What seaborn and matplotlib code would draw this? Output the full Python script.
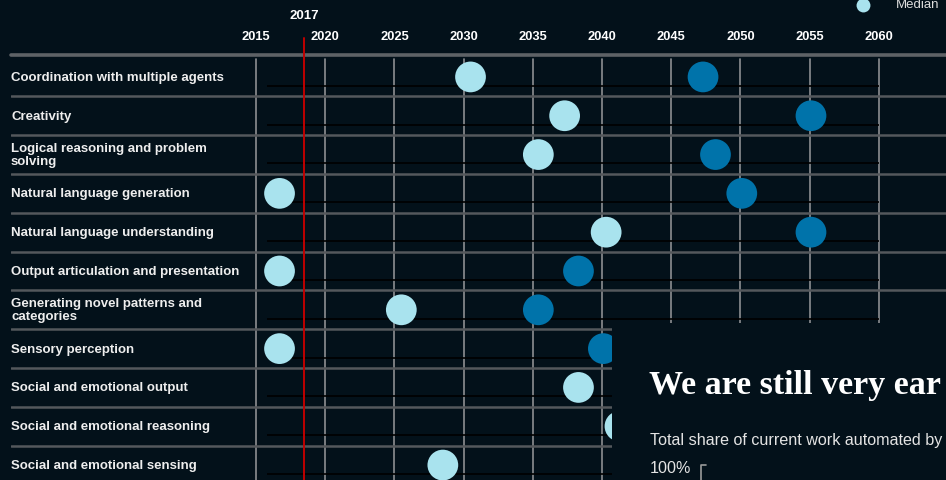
import numpy as np
import pandas as pd
import matplotlib.pyplot as plt
import matplotlib.transforms as mtransforms
from matplotlib.patches import Rectangle
from matplotlib.lines import Line2D
import seaborn as sns

# dark theme like the source page
BG = '#03111a'
LIGHT = '#a9e3ee'
DARK = '#0073aa'

sns.set_style("dark", {"axes.facecolor": BG, "figure.facecolor": BG})
plt.rcParams['font.family'] = ['Liberation Sans', 'DejaVu Sans']

##########################################################################
# data (years)

skills = ['Coordination with multiple agents',
          'Creativity',
          'Logical reasoning and problem\nsolving',
          'Natural language generation',
          'Natural language understanding',
          'Output articulation and presentation',
          'Generating novel patterns and\ncategories',
          'Sensory perception',
          'Social and emotional output',
          'Social and emotional reasoning',
          'Social and emotional sensing']

median_year = [2030.5, 2037.3, 2035.4, 2016.7, 2040.3, 2016.7,
               2025.5, 2016.7, 2038.3, 2041.3, 2028.5]
# later estimate; the last three sit under the overlay panel and can't be read
late_year = [2047.3, 2055.1, 2048.2, 2050.1, 2055.1, 2038.3,
             2035.4, 2040.1, np.nan, np.nan, np.nan]

year_ticks = [2015, 2020, 2025, 2030, 2035, 2040, 2045, 2050, 2055, 2060]
marker_year = 2018.5
marker_label = '2017'

df = pd.DataFrame({'skill': skills * 2,
                   'year': median_year + late_year,
                   'estimate': ['Median'] * len(skills) + ['Late'] * len(skills)})

##########################################################################

fig = plt.figure(figsize=(9.46, 4.81), dpi=100)
ax = fig.add_axes([11 / 946, 0, 1 - 11 / 946, 1 - 56 / 481])

sns.scatterplot(data=df, x='year', y='skill', hue='estimate',
                palette={'Median': LIGHT, 'Late': DARK},
                s=490, linewidth=0, legend=False, zorder=5, ax=ax)

n = len(skills)
ax.set_xlim(2015 - 245 / 13.84, 2015 + 690 / 13.84)
ax.set_ylim(n - 1 + 0.385, -0.565)

# vertical grid
for yr in year_ticks:
    ax.axvline(yr, ymin=0, ymax=0.99, color='#8c8f92', lw=1.2, zorder=1)

# row separators + header rule
for i in range(n - 1):
    ax.axhline(i + 0.5, color='#54585c', lw=1.8, zorder=2)
ax.axhline(-0.565, color='#5e6266', lw=2.6, zorder=2, clip_on=False)

# thin dark track inside each row
ax.hlines(np.arange(n) + 0.23, 2015.8, 2060, color='black', lw=1.2, zorder=3)

# reference year
ax.axvline(marker_year, ymin=0, ymax=1.04, color='#c00000', lw=1.4,
           zorder=4, clip_on=False)
ax.text(marker_year, 1.093, marker_label, transform=ax.get_xaxis_transform(),
        ha='center', va='center', color='white', fontsize=9.5,
        fontweight='bold')

# year labels on top
ax.xaxis.tick_top()
ax.set_xticks(year_ticks)
ax.set_xticklabels([str(y) for y in year_ticks], fontweight='bold',
                   fontsize=9.3, color='white')
ax.tick_params(axis='x', length=0, pad=9.5)
ax.set_yticks([])
ax.set_xlabel('')
ax.set_ylabel('')
ax.grid(False)
for s in ax.spines.values():
    s.set_visible(False)

# row labels
trans = mtransforms.blended_transform_factory(ax.transAxes, ax.transData)
for i, lab in enumerate(skills):
    ax.text(0, i, lab, transform=trans, ha='left', va='center',
            color='#eeeeee', fontsize=9.5, fontweight='bold', linespacing=1.15)

# legend key (cut at top of the screenshot)
ax.plot([863 / 946], [1 - 6 / 481], marker='o', markersize=10,
        color=LIGHT, mec='none', transform=fig.transFigure, clip_on=False)
fig.text(896 / 946, 1 - 8 / 481, 'Median', color='#dddddd', fontsize=9.5,
         va='baseline')

##########################################################################
# overlapping panel from the next section of the page (cut at right edge)

fig.add_artist(Rectangle((612 / 946, 0), 1 - 612 / 946, 157 / 481,
                         transform=fig.transFigure, facecolor=BG,
                         edgecolor='none', zorder=10))
fig.text(649 / 946, 1 - 394 / 481, 'We are still very ear',
         family=['Liberation Serif', 'DejaVu Serif'], fontweight='bold',
         fontsize=24.5, color='white', va='baseline', zorder=11)
fig.text(650 / 946, 1 - 445 / 481, 'Total share of current work automated by',
         fontsize=11.6, color='#e4e4e4', va='baseline', zorder=11)
fig.text(650 / 946, 1 - 473 / 481, '100%', fontsize=11.6, color='#e4e4e4',
         va='baseline', zorder=11)
fig.add_artist(Line2D([701 / 946, 701 / 946, 706 / 946],
                      [0, 1 - 466 / 481, 1 - 466 / 481],
                      transform=fig.transFigure, color='#9a9a9a', lw=1.2,
                      zorder=11))

fig.savefig('out.png', dpi=100, facecolor=BG)
